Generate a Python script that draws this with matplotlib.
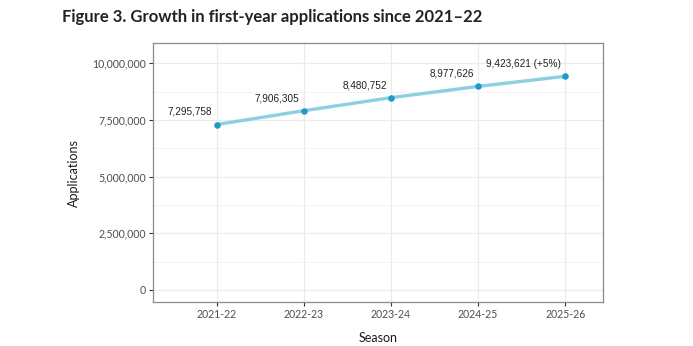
import matplotlib
matplotlib.use("Agg")
import matplotlib.pyplot as plt
from matplotlib.ticker import FuncFormatter, MultipleLocator

# Data
seasons = ["2021-22", "2022-23", "2023-24", "2024-25", "2025-26"]
applications = [7295758, 7906305, 8480752, 8977626, 9423621]
point_labels = ["7,295,758", "7,906,305", "8,480,752", "8,977,626", "9,423,621 (+5%)"]
y_ticks = [0, 2500000, 5000000, 7500000, 10000000]

line_color = "#8dcfe2"
point_color = "#1b9bc6"

fig = plt.figure(figsize=(6.93, 3.46), dpi=100)
ax = fig.add_axes([0.2208, 0.1272, 0.6489, 0.7477])

x = list(range(len(seasons)))
ax.plot(x, applications, color=line_color, lw=2.4, solid_capstyle="round", zorder=3)
ax.scatter(x, applications, s=22, color=point_color, zorder=4, linewidths=0)

for xi, yi, lab in zip(x, applications, point_labels):
    ax.annotate(lab, (xi, yi), xytext=(-3, 5.5), textcoords="offset points",
                ha="right", va="bottom", fontsize=7.2, color="#222222",
                family="Liberation Sans")

ax.set_xlim(-0.73, 4.43)
ax.set_ylim(-530000, 10880000)
ax.set_xticks(x)
ax.set_xticklabels(seasons)
ax.set_yticks(y_ticks)
ax.yaxis.set_major_formatter(FuncFormatter(lambda v, p: f"{int(v):,}"))
ax.yaxis.set_minor_locator(MultipleLocator(1250000))

# theme_bw style grid
ax.grid(True, which="major", color="#ebebeb", lw=0.9, zorder=0)
ax.grid(True, which="minor", axis="y", color="#f3f3f3", lw=0.7, zorder=0)
ax.set_axisbelow(True)
for s in ax.spines.values():
    s.set_color("#8a8a8a")
    s.set_linewidth(0.9)

ax.tick_params(axis="both", which="major", length=3, width=0.8, color="#333333",
               labelsize=7.6, labelcolor="#4d4d4d", pad=2)
ax.tick_params(axis="y", which="minor", length=0)
for lbl in ax.get_xticklabels() + ax.get_yticklabels():
    lbl.set_family("Lato")

ax.set_xlabel("Season", fontsize=9, family="Lato", color="#1a1a1a", labelpad=9)
ax.set_ylabel("Applications", fontsize=9, family="Lato", color="#1a1a1a", labelpad=9)

fig.text(62 / 693, 1 - 17 / 346, "Figure 3. Growth in first-year applications since 2021\u201322",
         fontsize=12, fontweight="bold", family="Lato", color="#222222",
         ha="left", va="center")

fig.savefig("out.png", dpi=100)
